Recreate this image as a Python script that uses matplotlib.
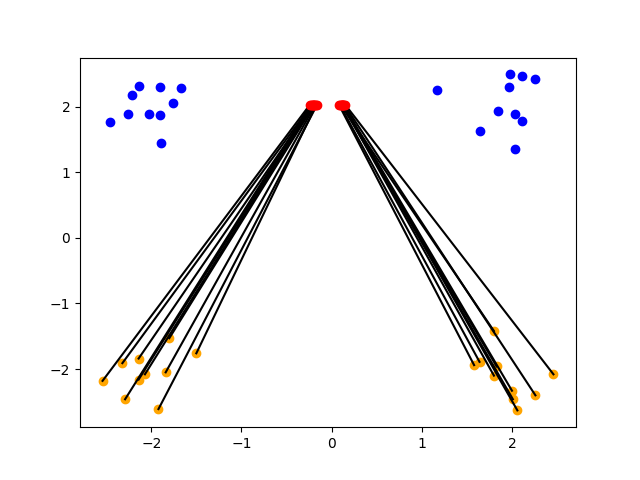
import numpy as np
import matplotlib.pyplot as plt

# blue source points
blue_x = [-2.46, -2.26, -2.21, -2.14, -2.03, -1.90, -1.90, -1.76, -1.67, -1.89,
          1.17, 1.98, 2.11, 2.25, 1.97, 1.85, 2.03, 2.11, 1.64, 2.03]
blue_y = [1.77, 1.89, 2.18, 2.32, 1.89, 1.87, 2.30, 2.05, 2.29, 1.44,
          2.25, 2.49, 2.47, 2.42, 2.30, 1.93, 1.89, 1.78, 1.62, 1.35]

# orange points
orange_x = [-2.54, -2.32, -2.14, -1.80, -1.50, -1.84, -2.07, -2.14, -2.29, -1.92,
            1.80, 1.58, 1.64, 1.83, 1.80, 2.46, 2.26, 2.00, 2.01, 2.06]
orange_y = [-2.18, -1.91, -1.84, -1.53, -1.76, -2.05, -2.08, -2.16, -2.46, -2.61,
            -1.42, -1.94, -1.89, -1.96, -2.10, -2.08, -2.40, -2.33, -2.46, -2.63]

# red targets, one per orange point
red_x = [-0.24, -0.22, -0.21, -0.19, -0.17, -0.18, -0.20, -0.21, -0.23, -0.16,
         0.10, 0.08, 0.09, 0.11, 0.12, 0.15, 0.14, 0.13, 0.12, 0.13]
red_y = [2.03, 2.03, 2.03, 2.03, 2.03, 2.03, 2.03, 2.03, 2.03, 2.03,
         2.03, 2.03, 2.03, 2.03, 2.03, 2.03, 2.03, 2.03, 2.03, 2.03]

fig, ax = plt.subplots(figsize=(6.4, 4.8), dpi=100)
ax.scatter(blue_x, blue_y, c='blue')
ax.scatter(orange_x, orange_y, c='orange')
for ox, oy, rx, ry in zip(orange_x, orange_y, red_x, red_y):
    ax.plot([ox, rx], [oy, ry], c='black')
ax.scatter(red_x, red_y, c='red', zorder=3)
fig.savefig('out.png')
